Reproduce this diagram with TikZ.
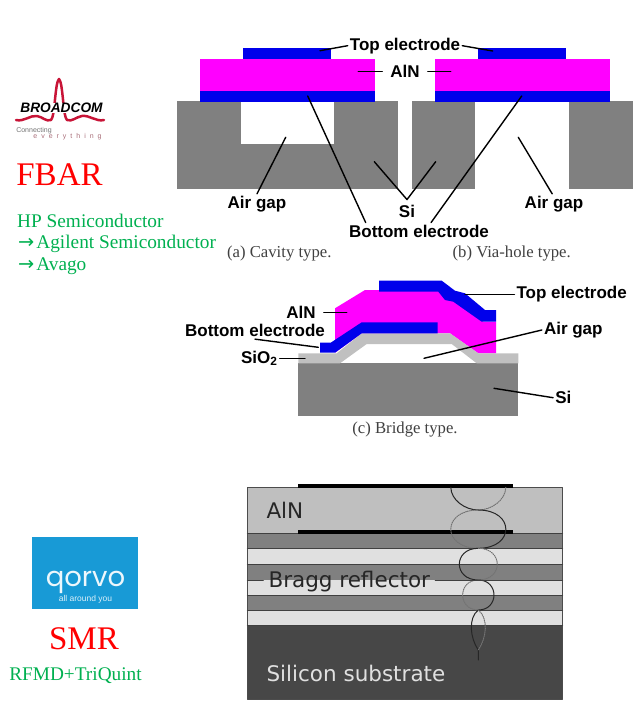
\documentclass[tikz,border=0pt]{standalone}
\usepackage{fontspec}
\setmainfont{Liberation Serif}
\newfontfamily\arialfont{Liberation Sans}
\newfontfamily\spacedfont[LetterSpace=57]{Liberation Sans}
\newfontfamily\dejafont{DejaVu Sans}
\newfontfamily\poppinsfont{Poppins}
\definecolor{elecblue}{RGB}{0,0,235}
\definecolor{aln}{RGB}{255,0,255}
\definecolor{si}{RGB}{128,128,128}
\definecolor{sio}{RGB}{192,192,192}
\definecolor{leaf}{RGB}{0,176,80}
\definecolor{qblue}{RGB}{24,154,214}
\definecolor{bcred}{RGB}{200,20,55}
\tikzset{
  lbl/.style={font=\arialfont\bfseries\fontsize{17}{18}\selectfont, inner sep=2pt},
  capt/.style={font=\fontsize{16.7}{17}\selectfont, text=black!75, inner sep=0pt},
  lead/.style={line width=1.4pt},
  green/.style={font=\fontsize{19.3}{20}\selectfont, text=leaf, anchor=west, inner sep=0pt},
  bigred/.style={font=\fontsize{33}{34}\selectfont, text=red, inner sep=0pt},
  wave/.style={line width=1pt, black!85},
  wavedot/.style={line width=1pt, black!55, densely dotted},
  bragg/.style={font=\dejafont\fontsize{21.5}{22}\selectfont, anchor=west, inner ysep=0pt}
}
\begin{document}
\begin{tikzpicture}[x=1pt, y=-1pt, line join=round, line cap=round]
\useasboundingbox (0,0) rectangle (642,706);
\fill[si] (177.3,100.7) rectangle (397.7,189.3);
\fill[white] (241,100) rectangle (334.3,144);
\fill[si] (412.3,100.7) rectangle (475,189.3);
\fill[si] (569.3,100.7) rectangle (632.7,189.3);
\fill[aln] (200,58.7) rectangle (375,91);
\fill[aln] (435,58.7) rectangle (610,91);
\fill[elecblue] (243.3,48) rectangle (331,58.7);
\fill[elecblue] (478.3,48) rectangle (566,58.7);
\fill[elecblue] (200,91) rectangle (375,101.7);
\fill[elecblue] (435,91) rectangle (610,101.7);
\node[lbl] (topab) at (405,45.7) {Top electrode};
\node[lbl, inner xsep=8pt] (alnab) at (405,71.5) {AlN};
\node[lbl] (botab) at (419,231) {Bottom electrode};
\node[lbl, inner ysep=5pt] (siab) at (407,211) {Si};
\node[lbl] (gapa) at (257,204) {Air gap};
\node[lbl] (gapb) at (554,204) {Air gap};
\coordinate (topa) at (320,50.7);
\coordinate (topb) at (492.7,51);
\coordinate (alna) at (358.3,71.5);
\coordinate (alnb) at (450.7,71.5);
\coordinate (bota) at (307.7,96);
\coordinate (botb) at (521.7,96);
\coordinate (sia) at (374.3,161.7);
\coordinate (sib) at (435.7,161.7);
\coordinate (gapaend) at (285.7,137.3);
\coordinate (gapbend) at (518.3,137.3);
\draw[lead] (topab.west) -- (topa);
\draw[lead] (topab.east) -- (topb);
\draw[lead] (alnab.west) -- (alna);
\draw[lead] (alnab.east) -- (alnb);
\draw[lead] (botab.171) -- (bota);
\draw[lead] (botab.35) -- (botb);
\draw[lead] (sia) -- (siab.north) -- (sib);
\draw[lead] (gapa.north) -- (gapaend);
\draw[lead] (gapb.100) -- (gapbend);
\node[capt] (capa) at (279.3,254) {(a) Cavity type.};
\node[capt] (capb) at (511.7,254) {(b) Via-hole type.};
\fill[si] (298.3,363.3) rectangle (518.3,416);
\fill[aln] (335,352.7) -- (335,308.3) -- (365,290) -- (438.3,290) -- (483.3,321.7) -- (496,321.7) -- (496,353.3) -- (478.3,353.3) -- (450,333.3) -- (361.7,333.3) -- cycle;
\fill[elecblue] (379,280.7) -- (441.7,280.7) -- (455,290.7) -- (465,293.3) -- (485,310) -- (496,310) -- (496,321.7) -- (481.7,321.7) -- (453.3,301.7) -- (445,300) -- (438.3,291.7) -- (379,291.7) -- cycle;
\fill[sio] (298.3,353.3) -- (336.7,353.3) -- (361.7,333.3) -- (450,333.3) -- (478.3,353.3) -- (518.3,353.3) -- (518.3,363.3) -- (476.7,363.3) -- (451.7,344) -- (366.7,344) -- (340,363.3) -- (298.3,363.3) -- cycle;
\fill[elecblue] (320,342.7) -- (330.7,342.7) -- (361.7,322.3) -- (437.7,322.3) -- (437.7,333.3) -- (361.7,333.3) -- (335,352.7) -- (320,352.7) -- cycle;
\node[lbl, inner xsep=8pt] (alnc) at (301,312.3) {AlN};
\node[lbl] (botc) at (255,330.7) {Bottom electrode};
\node[lbl] (sioc) at (259.3,358.3) {SiO\textsubscript{2}};
\node[lbl] (topc) at (571.7,294.3) {Top electrode};
\node[lbl] (gapc) at (573.3,330) {Air gap};
\node[lbl] (sic) at (563.3,397.7) {Si};
\coordinate (alncend) at (346.7,312.3);
\coordinate (botcend) at (318.3,347.3);
\coordinate (siocend) at (305,358.3);
\coordinate (topcend) at (465,294.3);
\coordinate (gapcend) at (424,358.3);
\coordinate (sicend) at (494,388.3);
\draw[lead] (alnc.east) -- (alncend);
\draw[lead] (botc.south) -- (botcend);
\draw[lead] (sioc.east) -- (siocend);
\draw[lead] (topc.west) -- (topcend);
\draw[lead] (gapc.west) -- (gapcend);
\draw[lead] (sic.west) -- (sicend);
\node[capt] (capc) at (405,430) {(c) Bridge type.};
\fill[black!25] (247.3,487.3) rectangle (562.7,533.3);
\fill[si] (247.3,533.3) rectangle (562.7,548.3);
\fill[black!12] (247.3,548.3) rectangle (562.7,564.3);
\fill[si] (247.3,564.3) rectangle (562.7,580);
\fill[black!12] (247.3,580) rectangle (562.7,595.7);
\fill[si] (247.3,595.7) rectangle (562.7,610);
\fill[black!12] (247.3,610) rectangle (562.7,625.7);
\fill[black!72] (247.3,625.7) rectangle (562.7,699);
\draw[line width=0.9pt, black!70] (247.3,487.3) rectangle (562.7,699);
\draw[line width=0.9pt, black!75] (247.3,533.3) -- (562.7,533.3);
\draw[line width=0.9pt, black!75] (247.3,548.3) -- (562.7,548.3);
\draw[line width=0.9pt, black!75] (247.3,564.3) -- (562.7,564.3);
\draw[line width=0.9pt, black!75] (247.3,595.7) -- (562.7,595.7);
\draw[line width=0.9pt, black!75] (247.3,610) -- (562.7,610);
\draw[line width=0.9pt, black!75] (247.3,625.7) -- (562.7,625.7);
\fill[black] (298.3,484) rectangle (513.3,487.5);
\fill[black] (298.3,530) rectangle (513.3,533.5);
\draw[wave] (450.8,487.3) .. controls (451,500) and (465,510) .. (478.3,510);
\draw[wavedot] (505.8,487.3) .. controls (505.6,500) and (491.6,510) .. (478.3,510);
\draw[wave] (478.3,510) .. controls (515,510) and (515,548.3) .. (478.3,548.3);
\draw[wavedot] (478.3,510) .. controls (441.6,510) and (441.6,548.3) .. (478.3,548.3);
\draw[wave] (478.3,548.3) .. controls (453,548.3) and (453,580) .. (478.3,580);
\draw[wavedot] (478.3,548.3) .. controls (503.6,548.3) and (503.6,580) .. (478.3,580);
\draw[wave] (478.3,580) .. controls (499.2,580) and (499.2,610) .. (478.3,610);
\draw[wavedot] (478.3,580) .. controls (457.4,580) and (457.4,610) .. (478.3,610);
\draw[wave] (478.3,610) .. controls (468,618) and (470,638) .. (478.3,650) -- (478.3,660);
\draw[wavedot] (478.3,610) .. controls (488.6,618) and (486.6,638) .. (478.3,650);
\node[bragg, text=black!85] (alntext) at (263,510) {AlN};
\node[bragg, text=black!85, inner xsep=5pt, text height=20pt, text depth=5pt] (reflector) at (263.3,580) {Bragg reflector};
\node[bragg, text=black!12] (substrate) at (263,673) {Silicon substrate};
\coordinate (braggl) at (247.3,580);
\coordinate (braggr) at (562.7,580);
\draw[line width=0.9pt, black!75] (braggl) -- (reflector.west);
\draw[line width=0.9pt, black!75] (reflector.east) -- (braggr);
\draw[bcred, line width=2.5pt] (16,120) .. controls (24,122) and (30,115) .. (37,116) .. controls (43,117) and (46,122) .. (51,120) .. controls (55,117) and (55,82) .. (59,79) .. controls (63,82) and (63,117) .. (67,120) .. controls (72,122) and (76,117) .. (82,116) .. controls (90,115) and (96,122) .. (104,120);
\node[fill=white, inner xsep=0pt, inner ysep=0.5pt, font=\arialfont\bfseries\itshape\fontsize{13.7}{14}\selectfont] (broadcom) at (61.5,108) {BROADCOM};
\node[inner sep=0pt, text=black!55, font=\arialfont\fontsize{7}{8}\selectfont] (connecting) at (34,131) {Connecting};
\node[inner sep=0pt, text=bcred!55!black!60, font=\spacedfont\fontsize{7}{8}\selectfont] (everything) at (67.5,137) {everything};
\node[bigred] (fbar) at (59.5,175) {FBAR};
\node[green] (hp) at (17,221) {HP Semiconductor};
\node[green] (agilent) at (18,244.3) {{\dejafont →}\hspace{2pt}Agilent Semiconductor};
\node[green] (avago) at (18,266.7) {{\dejafont →}\hspace{2pt}Avago};
\fill[qblue] (32.3,537.3) rectangle (137.7,609);
\node[inner sep=0pt, text=white!92!qblue, font=\poppinsfont\fontsize{27.5}{28}\selectfont] (qorvo) at (85.5,582) {qorvo};
\node[inner sep=0pt, text=white!85!qblue, font=\arialfont\fontsize{8.5}{9}\selectfont] (around) at (85.5,599) {all around you};
\node[bigred] (smr) at (84,638.3) {SMR};
\node[green, anchor=center] (rfmd) at (75.5,675.7) {RFMD+TriQuint};
\end{tikzpicture}
\end{document}
